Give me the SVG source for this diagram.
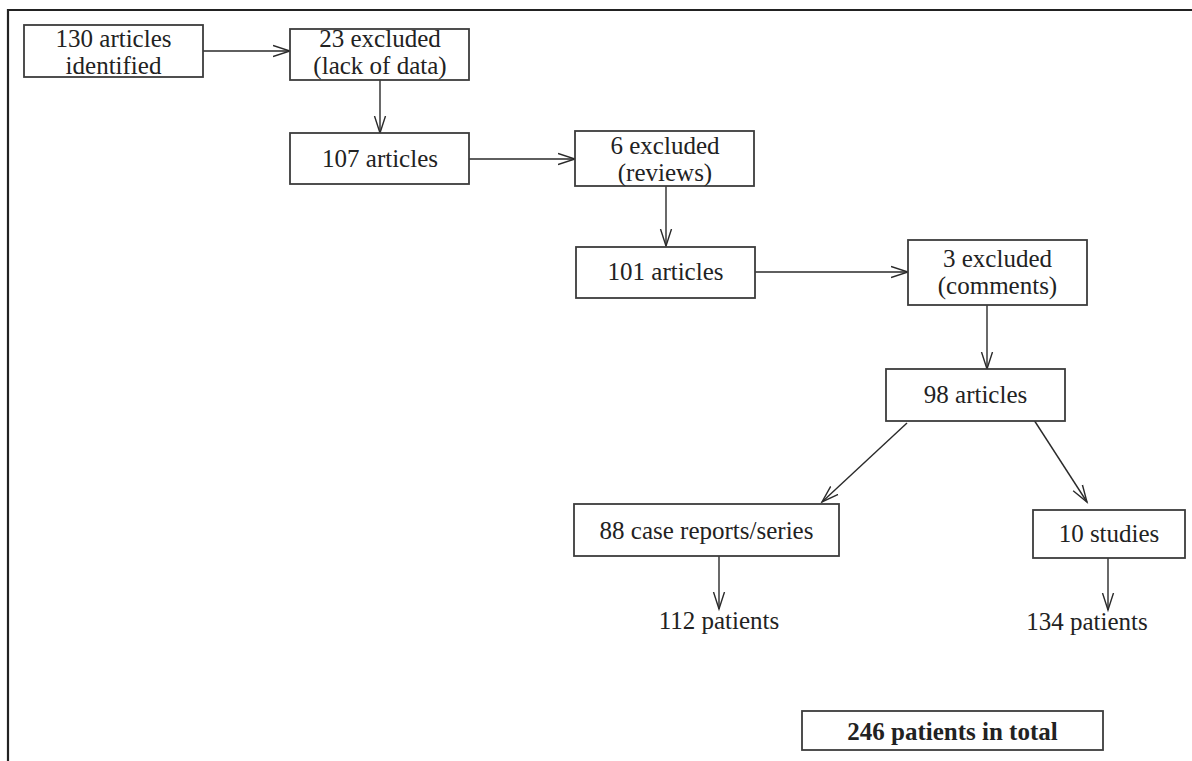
<svg xmlns="http://www.w3.org/2000/svg" width="1192" height="761" viewBox="0 0 1192 761">
<defs>
<style>
.box{fill:#fff;stroke:#3c3c3c;stroke-width:1.8}
.t{font-family:'Liberation Serif','DejaVu Serif','Noto Serif',serif;font-size:25px;fill:#222;text-anchor:middle}
.b{font-weight:bold}
.c{stroke:#2a2a2a;stroke-width:1.4;fill:none}
.frame{stroke:#222;stroke-width:2.2;fill:none}
</style>
<marker id="ah" markerUnits="userSpaceOnUse" markerWidth="20" markerHeight="14" refX="17" refY="6" orient="auto" viewBox="0 0 20 12">
<path d="M0,0.5 L17,6 L0,11.5" fill="none" stroke="#2a2a2a" stroke-width="1.4"/>
</marker>
</defs>
<rect width="1192" height="761" fill="#fff"/>
<path class="frame" d="M8,761 L8,10 L1192,10"/>
<g id="connectors">
<line class="c" x1="203" y1="51" x2="290" y2="51" marker-end="url(#ah)"/>
<line class="c" x1="380" y1="80" x2="380" y2="133" marker-end="url(#ah)"/>
<line class="c" x1="469" y1="159" x2="575" y2="159" marker-end="url(#ah)"/>
<line class="c" x1="666" y1="186" x2="666" y2="246" marker-end="url(#ah)"/>
<line class="c" x1="755" y1="272" x2="908" y2="272" marker-end="url(#ah)"/>
<line class="c" x1="987" y1="305" x2="987" y2="369" marker-end="url(#ah)"/>
<line class="c" x1="907" y1="423" x2="822" y2="502" marker-end="url(#ah)"/>
<line class="c" x1="1034" y1="420" x2="1087" y2="502" marker-end="url(#ah)"/>
<line class="c" x1="719" y1="556" x2="719" y2="609" marker-end="url(#ah)"/>
<line class="c" x1="1108" y1="558" x2="1108" y2="610" marker-end="url(#ah)"/>
</g>
<g id="n1"><rect class="box" x="24" y="25" width="179" height="52"/><text class="t" x="113.5" y="47">130 articles</text><text class="t" x="113.5" y="74">identified</text></g>
<g id="n2"><rect class="box" x="290" y="29" width="179" height="51"/><text class="t" x="380" y="47">23 excluded</text><text class="t" x="380" y="74">(lack of data)</text></g>
<g id="n3"><rect class="box" x="290" y="133" width="179" height="51"/><text class="t" x="380" y="167">107 articles</text></g>
<g id="n4"><rect class="box" x="575" y="131" width="179" height="55"/><text class="t" x="665" y="154">6 excluded</text><text class="t" x="665" y="181">(reviews)</text></g>
<g id="n5"><rect class="box" x="576" y="247" width="179" height="51"/><text class="t" x="665.5" y="280">101 articles</text></g>
<g id="n6"><rect class="box" x="908" y="240" width="179" height="65"/><text class="t" x="997.5" y="267">3 excluded</text><text class="t" x="997.5" y="294">(comments)</text></g>
<g id="n7"><rect class="box" x="886" y="369" width="179" height="52"/><text class="t" x="975.5" y="403">98 articles</text></g>
<g id="n8"><rect class="box" x="574" y="504" width="265" height="52"/><text class="t" x="706.5" y="539">88 case reports/series</text></g>
<g id="n9"><rect class="box" x="1033" y="510" width="152" height="48"/><text class="t" x="1109" y="542">10 studies</text></g>
<g id="n10"><text class="t" x="719" y="629">112 patients</text></g>
<g id="n11"><text class="t" x="1087" y="630">134 patients</text></g>
<g id="n12"><rect class="box" x="802" y="711" width="301" height="39"/><text class="t b" x="952.5" y="740">246 patients in total</text></g>
</svg>
